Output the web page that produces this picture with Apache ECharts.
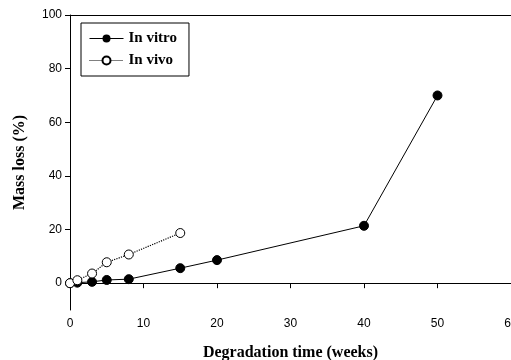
<!DOCTYPE html>
<html>
<head>
<meta charset="utf-8">
<script src="https://cdn.jsdelivr.net/npm/echarts@6/dist/echarts.min.js"></script>
<style>html,body{margin:0;padding:0;background:#fff;}#c{width:511px;height:360px;}</style>
</head>
<body>
<div id="c"></div>
<script>
const vitroWeeks = [0, 1, 3, 5, 8, 15, 20, 40, 50];
const vitroLoss = [0, 0.2, 0.5, 1.2, 1.5, 5.6, 8.6, 21.4, 70.0];
const vivoWeeks = [0, 1, 3, 5, 8, 15];
const vivoLoss = [0, 1.1, 3.6, 7.8, 10.7, 18.7];
const yTicks = [0, 20, 40, 60, 80, 100];
const xTicks = [0, 10, 20, 30, 40, 50, 60];

const chart = echarts.init(document.getElementById('c'), null, {renderer: 'canvas'});
const serif = '"Liberation Serif", "Times New Roman", serif';
const sans = '"Liberation Sans", Arial, sans-serif';
chart.setOption({
  animation: false,
  backgroundColor: '#fff',
  grid: {left: 70, right: 0, top: 15, bottom: 50, containLabel: false, outerBoundsMode: 'none'},
  legend: {
    left: 81, top: 23,
    orient: 'vertical',
    borderColor: '#000', borderWidth: 1,
    padding: [8, 12, 8, 8],
    itemWidth: 34, itemHeight: 10, itemGap: 7,
    textStyle: {fontFamily: serif, fontWeight: 'bold', fontSize: 15, color: '#000'},
    data: [
      {name: 'In vitro', lineStyle: {width: 1, color: '#000', type: 'solid'}},
      {name: 'In vivo', lineStyle: {width: 1, color: '#000', type: 'dotted'}}
    ]
  },
  xAxis: [{
    type: 'value', min: 0, max: 60, interval: 10,
    name: 'Degradation time (weeks)', nameLocation: 'middle', nameGap: 35,
    nameTextStyle: {fontFamily: serif, fontWeight: 'bold', fontSize: 16, color: '#000'},
    axisLine: {show: true, lineStyle: {color: '#000', width: 1}},
    axisTick: {show: true, length: 5, lineStyle: {color: '#000'}, customValues: xTicks},
    axisLabel: {fontFamily: sans, fontSize: 12, color: '#000', margin: 8, customValues: xTicks, hideOverlap: false},
    splitLine: {show: false}
  }, {
    type: 'value', min: 0, max: 60, position: 'top',
    axisLine: {show: true, lineStyle: {color: '#000', width: 1}},
    axisTick: {show: false}, axisLabel: {show: false}, splitLine: {show: false}
  }],
  yAxis: {
    type: 'value', min: -10, max: 100,
    name: 'Mass loss (%)', nameLocation: 'middle', nameGap: 42, nameRotate: 90,
    nameTextStyle: {fontFamily: serif, fontWeight: 'bold', fontSize: 16, color: '#000'},
    axisLine: {show: true, lineStyle: {color: '#000', width: 1}},
    axisTick: {show: true, length: 5, lineStyle: {color: '#000'}, customValues: yTicks},
    axisLabel: {fontFamily: sans, fontSize: 12, color: '#000', margin: 8, customValues: yTicks},
    splitLine: {show: false}
  },
  series: [{
    name: 'In vitro', type: 'line',
    data: vitroWeeks.map((w, i) => [w, vitroLoss[i]]),
    symbol: 'circle', symbolSize: 9,
    itemStyle: {color: '#000', borderColor: '#000'},
    lineStyle: {color: '#000', width: 1},
    z: 2
  }, {
    name: 'In vivo', type: 'line',
    data: vivoWeeks.map((w, i) => [w, vivoLoss[i]]),
    symbol: 'circle', symbolSize: 9,
    itemStyle: {color: '#fff', borderColor: '#000', borderWidth: 1},
    lineStyle: {color: '#000', width: 1.2, type: 'dotted'},
    z: 3
  }]
});
</script>
</body>
</html>
